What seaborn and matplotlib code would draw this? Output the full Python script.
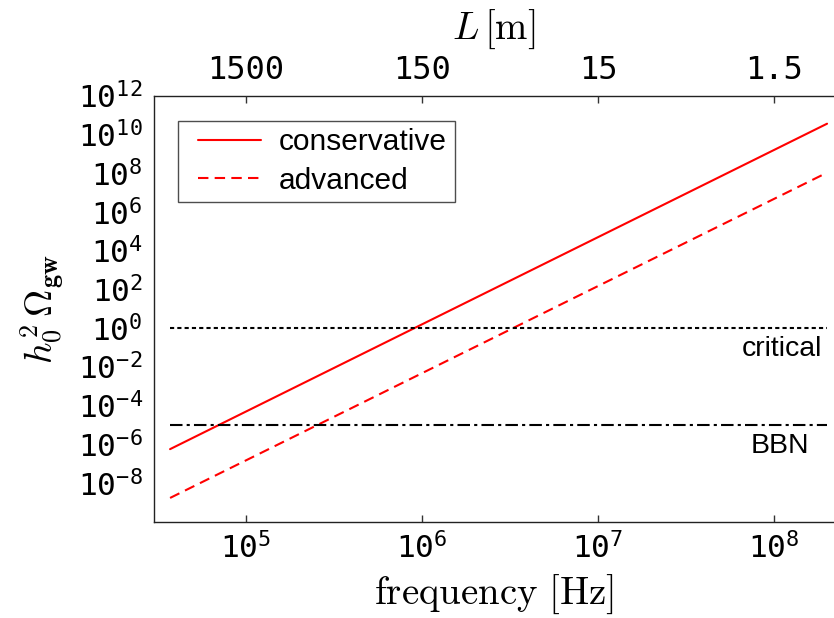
import matplotlib
matplotlib.use("Agg")
import matplotlib.pyplot as plt
import seaborn as sns
import numpy as np
import pandas as pd
from matplotlib.ticker import FixedLocator, FuncFormatter, NullLocator
from matplotlib.legend_handler import HandlerLine2D

# Data (straight lines in log-log space)
freq = [3.7e4, 2.0e8]                 # Hz
conservative = [5.8e-7, 3.7e10]       # h0^2 Omega_gw
advanced = [1.75e-9, 1.1e8]
critical_level = 1.0
bbn_level = 1.0e-5

# axis ticks
x_tick_exp = [5, 6, 7, 8]
y_tick_exp = [-8, -6, -4, -2, 0, 2, 4, 6, 8, 10, 12]
L_labels = ["1500", "150", "15", "1.5"]
L_values = [1500.0, 150.0, 15.0, 1.5]
c_over_L = 1.5e8                      # f = 1.5e8 / L

sns.set_theme(style="white")
plt.rcParams["font.family"] = ["Liberation Sans", "DejaVu Sans"]
plt.rcParams["text.color"] = "black"
plt.rcParams["axes.labelcolor"] = "black"
plt.rcParams["mathtext.fontset"] = "custom"
plt.rcParams["mathtext.rm"] = "DejaVu Sans Mono"
plt.rcParams["mathtext.it"] = "DejaVu Sans Mono"
plt.rcParams["mathtext.bf"] = "DejaVu Sans Mono:bold"

fig = plt.figure(figsize=(8.34, 6.18), dpi=100)
ax = fig.add_axes([0.1847, 0.1553, 0.8153, 0.6894])

df = pd.DataFrame({
    "freq": freq * 2,
    "omega": conservative + advanced,
    "case": ["conservative"] * 2 + ["advanced"] * 2,
})

red = "#ff0000"
sns.lineplot(data=df[df.case == "conservative"], x="freq", y="omega",
             color=red, lw=1.5, ax=ax, label="conservative")
sns.lineplot(data=df[df.case == "advanced"], x="freq", y="omega",
             color=red, lw=1.5, ax=ax, label="advanced")
ax.lines[1].set_dashes((5, 3))

ax.plot(freq, [critical_level] * 2, color="black", lw=1.5, dashes=(2, 1.5))
ax.plot(freq, [bbn_level] * 2, color="black", lw=1.5, dashes=(6, 2, 1.5, 2))

ax.set_xscale("log")
ax.set_yscale("log")
ax.set_xlim(3.0e4, 2.19e8)
ax.set_ylim(1e-10, 1e12)

ax.xaxis.set_major_locator(FixedLocator([10.0 ** e for e in x_tick_exp]))
ax.yaxis.set_major_locator(FixedLocator([10.0 ** e for e in y_tick_exp]))
ax.xaxis.set_minor_locator(NullLocator())
ax.yaxis.set_minor_locator(NullLocator())
fmt = FuncFormatter(lambda v, p: r"$\mathrm{10^{%d}}$" % int(round(np.log10(v))))
ax.xaxis.set_major_formatter(fmt)
ax.yaxis.set_major_formatter(fmt)
ax.tick_params(axis="both", direction="in", length=5, width=1, color="#333333",
               labelsize=22.5, labelcolor="black")
ax.tick_params(axis="x", pad=8)
ax.tick_params(axis="y", pad=8)

for side in ["left", "bottom", "top"]:
    ax.spines[side].set_color("#222222")
    ax.spines[side].set_linewidth(1.0)
ax.spines["right"].set_visible(False)

# top axis with length scale
ax_top = ax.twiny()
ax_top.set_xscale("log")
ax_top.set_xlim(ax.get_xlim())
ax_top.xaxis.set_major_locator(FixedLocator([c_over_L / L for L in L_values]))
ax_top.xaxis.set_minor_locator(NullLocator())
ax_top.set_xticklabels(L_labels, family="DejaVu Sans Mono")
ax_top.tick_params(axis="x", direction="in", length=5, width=1, color="#333333",
                   labelsize=23, labelcolor="black", pad=7)
for s in ax_top.spines.values():
    s.set_visible(False)

ax.set_xlabel(r"$\mathrm{frequency\ [Hz]}$", fontsize=28, math_fontfamily="cm",
              labelpad=5)
ax.set_ylabel(r"$h_0^2\,\Omega_{\mathbf{gw}}$", fontsize=27, math_fontfamily="cm",
              labelpad=8)
ax_top.set_xlabel(r"$L\,[\mathrm{m}]$", fontsize=28, math_fontfamily="cm",
                  labelpad=12)

ax.annotate("critical", xy=(freq[-1], critical_level), xytext=(-5, -21),
            textcoords="offset pixels", ha="right", va="center", fontsize=20.5)
ax.annotate("BBN", xy=(freq[-1], bbn_level), xytext=(-18, -21),
            textcoords="offset pixels", ha="right", va="center", fontsize=20.5)

leg = ax.legend(loc="upper left", bbox_to_anchor=(0.035, 0.942), borderaxespad=0,
                fontsize=21.5, fancybox=False, frameon=True, handlelength=2.54,
                handletextpad=0.6, labelspacing=0.36, borderpad=0.25,
                handler_map={plt.Line2D: HandlerLine2D(xpad=0.42)})
leg.get_frame().set_edgecolor("#222222")
leg.get_frame().set_linewidth(1.0)
leg.legend_handles[1].set_dashes((5, 3))

fig.savefig("out.png", dpi=100)
